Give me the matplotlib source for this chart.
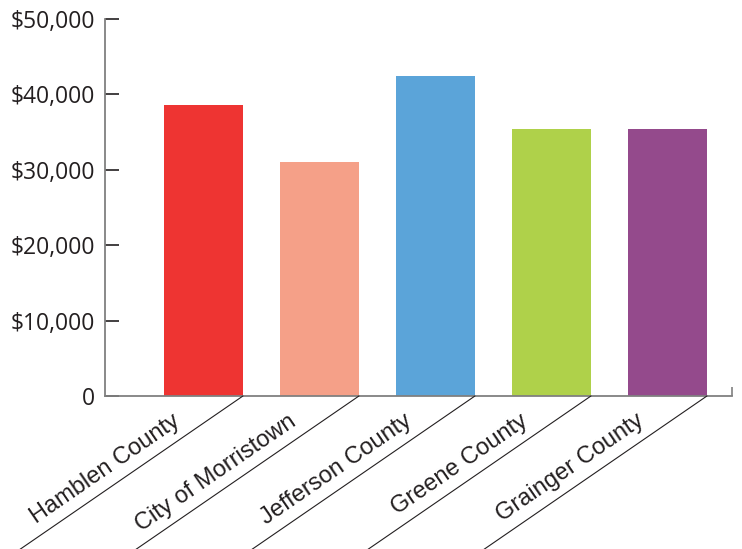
import matplotlib
matplotlib.use('Agg')
import matplotlib.pyplot as plt
import numpy as np

# data
categories = ['Hamblen County', 'City of Morristown', 'Jefferson County',
              'Greene County', 'Grainger County']
values = [38600, 31000, 42400, 35400, 35400]
colors = ['#EE3432', '#F5A088', '#5BA4D9', '#AFD14A', '#944A8C']
yticks = [0, 10000, 20000, 30000, 40000, 50000]
ytick_labels = ['0', '$10,000', '$20,000', '$30,000', '$40,000', '$50,000']

BAR_W = 0.68
ANGLE = 34.5

fig = plt.figure(figsize=(7.42, 5.49), dpi=100)
ax = fig.add_axes([105 / 742, 153 / 549, 627 / 742, 377 / 549])

x = np.arange(len(categories))
ax.bar(x, values, width=BAR_W, color=colors, zorder=2)

ax.set_ylim(0, 50000)
x_left, x_right = -0.849, 4.556
ax.set_xlim(x_left, x_right)

ax.set_yticks(yticks)
ax.set_yticklabels(ytick_labels, fontfamily='Open Sans', fontsize=16.5, color='#231F20')
ax.tick_params(axis='y', direction='in', length=10, width=1.2, color='#231F20', pad=7)

# only a small end tick on the x axis
ax.set_xticks([x_right])
ax.set_xticklabels([''])
ax.tick_params(axis='x', direction='in', length=6.5, width=1.2, color='#808080')

for side in ['top', 'right']:
    ax.spines[side].set_visible(False)
for side in ['left', 'bottom']:
    ax.spines[side].set_color('#808080')
    ax.spines[side].set_linewidth(1.3)

# slanted separator lines and labels
a = np.radians(ANGLE)
for i, name in enumerate(categories):
    x0 = i + BAR_W / 2
    ax.annotate('', xy=(x0, 0), xytext=(-221 * 1.1, -152 * 1.1), textcoords='offset pixels',
                arrowprops=dict(arrowstyle='-', color='#231F20', lw=0.8, shrinkA=0, shrinkB=0),
                annotation_clip=False)
    along, perp = 67, 12
    dx = -along * np.cos(a) - perp * np.sin(a)
    dy = -along * np.sin(a) + perp * np.cos(a)
    ax.annotate(name, xy=(x0, 0), xytext=(dx, dy), textcoords='offset pixels',
                rotation=ANGLE, rotation_mode='anchor', ha='right', va='baseline',
                fontfamily='Liberation Sans', fontsize=17, color='#231F20',
                annotation_clip=False)

fig.savefig('out.png', dpi=100)
